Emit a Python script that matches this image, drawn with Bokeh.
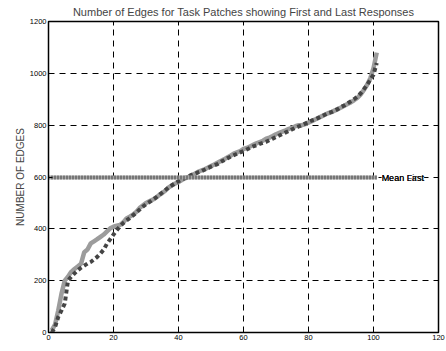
from bokeh.plotting import figure
from bokeh.models import LinearAxis, Range1d, FixedTicker, Label, ColumnDataSource
from bokeh.embed import file_html
from bokeh.resources import INLINE

tasks = list(range(1, 102))
first_edges = [8, 30, 85, 150, 200, 215, 234, 245, 255, 265,
               310, 320, 344, 352, 360, 369, 378, 390, 402, 408,
               412, 415, 425, 440, 447, 455, 465, 480, 490, 500,
               506, 512, 520, 530, 538, 548, 560, 568, 575, 580,
               588, 595, 600, 606, 612, 620, 625, 630, 636, 642,
               648, 655, 662, 668, 675, 682, 690, 695, 700, 708,
               712, 718, 724, 730, 735, 740, 748, 752, 758, 765,
               770, 775, 780, 786, 790, 796, 800, 800, 804, 810,
               815, 822, 828, 834, 840, 846, 850, 856, 862, 868,
               875, 882, 888, 896, 905, 918, 935, 955, 980, 1020,
               1080]
last_edges = [0, 20, 60, 85, 112, 200, 215, 228, 240, 250,
              258, 266, 272, 282, 292, 305, 320, 343, 360, 378,
              395, 410, 422, 432, 441, 452, 462, 474, 485, 495,
              503, 512, 520, 530, 540, 550, 560, 568, 576, 584,
              590, 596, 602, 608, 612, 618, 622, 628, 634, 640,
              645, 650, 658, 665, 672, 678, 684, 690, 695, 700,
              706, 712, 718, 722, 728, 732, 736, 742, 748, 754,
              760, 766, 772, 778, 784, 790, 795, 800, 806, 812,
              818, 822, 828, 834, 840, 846, 850, 856, 862, 870,
              876, 884, 892, 900, 910, 922, 938, 955, 975, 995,
              1040]
mean_x = [0, 101]
mean_first = [598, 598]
mean_last = [598, 598]
x_ticks = [0, 20, 40, 60, 80, 100, 120]
y_ticks = [0, 200, 400, 600, 800, 1000, 1200]

FONT = "Liberation Sans"

p = figure(width=446, height=351, output_backend="svg", toolbar_location=None,
           x_range=Range1d(0, 120), y_range=Range1d(0, 1200),
           title="Number of Edges for Task Patches showing First and Last Responses",
           min_border_left=48, min_border_right=8, min_border_bottom=19, min_border_top=4)
p.title.text_font = FONT
p.title.text_font_size = "11px"
p.title.text_font_style = "normal"
p.title.align = "center"
p.title.offset = 0
p.title.standoff = 7

p.outline_line_color = "black"
p.outline_line_width = 1.5
p.background_fill_color = "white"
p.border_fill_color = "white"

for ax in (p.xaxis[0], p.yaxis[0]):
    ax.major_label_text_font = FONT
    ax.major_label_text_font_size = "7.5px"
    ax.major_label_text_color = "black"
    ax.major_tick_in = 4
    ax.major_tick_out = 0
    ax.minor_tick_line_color = None
    ax.axis_line_color = "black"
    ax.major_tick_line_color = "black"
    ax.major_label_standoff = 2
p.xaxis[0].ticker = FixedTicker(ticks=x_ticks)
p.yaxis[0].ticker = FixedTicker(ticks=y_ticks)
p.yaxis[0].axis_label = "NUMBER OF EDGES"
p.yaxis[0].axis_label_text_font = FONT
p.yaxis[0].axis_label_text_font_size = "10px"
p.yaxis[0].axis_label_text_font_style = "normal"
p.yaxis[0].axis_label_standoff = 1

for loc, tk in (("right", y_ticks), ("above", x_ticks)):
    ax = LinearAxis(ticker=FixedTicker(ticks=tk),
                    major_label_overrides={t: "" for t in tk},
                    major_label_text_font_size="7.5px",
                    major_tick_in=4, major_tick_out=0, minor_tick_line_color=None,
                    major_label_standoff=0, axis_line_color="black")
    p.add_layout(ax, loc)

p.xgrid.ticker = FixedTicker(ticks=x_ticks)
p.ygrid.ticker = FixedTicker(ticks=y_ticks)
for g in (p.xgrid[0], p.ygrid[0]):
    g.grid_line_color = "black"
    g.grid_line_dash = "6 5"
    g.grid_line_width = 1

src = ColumnDataSource(dict(x=tasks, first=first_edges, last=last_edges))
p.line("x", "first", source=src, line_color="#9c9c9c", line_width=4.5)
p.line("x", "last", source=src, line_color="#444444", line_width=4, line_dash="4 3")

p.line(mean_x, mean_first, line_color="#a8a8a8", line_width=4)
p.line(mean_x, mean_last, line_color="#444444", line_width=4, line_dash="1 2")

p.add_layout(Label(x=102.5, y=598, text="Mean First", text_font=FONT, text_font_size="9px",
                   text_color="black", text_baseline="middle",
                   background_fill_color="white"))
p.add_layout(Label(x=102.5, y=598, text="Mean Last", text_font=FONT, text_font_size="9px",
                   text_color="black", text_baseline="middle"))

open("out.html", "w").write(file_html(p, INLINE))
